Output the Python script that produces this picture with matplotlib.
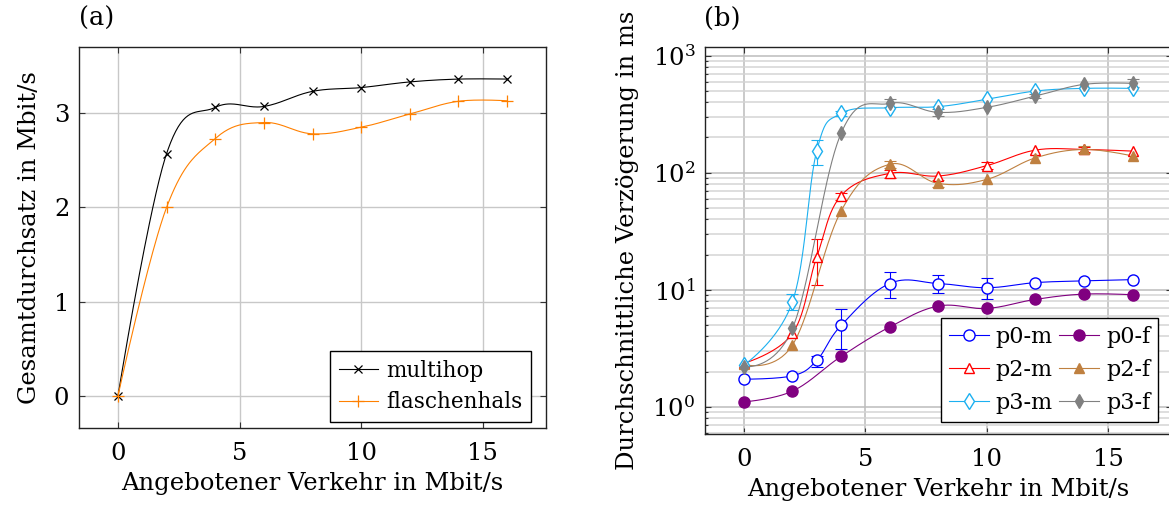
import numpy as np
import matplotlib
matplotlib.use('Agg')
import matplotlib.pyplot as plt
from matplotlib.lines import Line2D
from matplotlib.ticker import LogLocator, NullFormatter

plt.rcParams['font.family'] = ['DejaVu Serif']
plt.rcParams['mathtext.fontset'] = 'dejavuserif'
plt.rcParams['font.size'] = 17.5

# (a) Gesamtdurchsatz
x_a = [0, 2, 4, 6, 8, 10, 12, 14, 16]
multihop = [0, 2.57, 3.06, 3.07, 3.23, 3.27, 3.33, 3.36, 3.36]
flaschenhals = [0, 2.0, 2.73, 2.90, 2.78, 2.85, 2.99, 3.125, 3.13]

# (b) Verzoegerung, values + error bounds (nan = no error bar)
nan = np.nan
x_m = [0, 2, 3, 4, 6, 8, 10, 12, 14, 16]
x_f = [0, 2, 4, 6, 8, 10, 12, 14, 16]

p0_m = [1.72, 1.84, 2.49, 4.95, 11.3, 11.3, 10.4, 11.5, 11.9, 12.2]
p0_m_lo = [nan, nan, 2.2, 3.1, 8.5, 9.3, 8.3, nan, nan, nan]
p0_m_hi = [nan, nan, 2.71, 6.8, 14.1, 13.4, 12.7, nan, nan, nan]

p0_f = [1.10, 1.36, 2.69, 4.80, 7.25, 6.92, 8.27, 9.18, 9.06]

p2_m = [2.35, 4.23, 19.1, 63.6, 98.7, 93.7, 115, 156, 158, 153]
p2_m_lo = [nan, nan, 11.0, 58.5, 91, nan, 107, nan, 150, nan]
p2_m_hi = [nan, nan, 27.0, 67.5, 105, nan, 123, nan, 166, nan]

p2_f = [2.3, 3.37, 47, 118, 81, 87.7, 134, 158, 139]
p2_f_lo = [nan, nan, nan, 110, 75, nan, nan, 147, nan]
p2_f_hi = [nan, nan, nan, 127, 86, nan, nan, 170, nan]

p3_m = [2.27, 7.9, 154, 321, 359, 367, 424, 499, 526, 526]
p3_m_lo = [nan, 6.7, 116, 305, nan, nan, nan, nan, nan, nan]
p3_m_hi = [nan, 9.14, 190, 335, nan, nan, nan, nan, nan, nan]

p3_f = [2.2, 4.67, 217, 391, 328, 362, 452, 569, 580]
p3_f_lo = [nan, nan, nan, 362, 305, nan, 432, nan, 537]
p3_f_hi = [nan, nan, nan, 427, 351, nan, 470, nan, 629]

TENSION = 0.55 * 0.3333


def smooth(ax, x, y, **kw):
    # tikz-like smooth curve, computed in display space
    pts = ax.transData.transform(np.column_stack([x, y]))
    n = len(pts)
    s = np.linspace(0, 1, 40)[1:, None]
    out = [pts[0]]
    for i in range(n - 1):
        p0, p1 = pts[i], pts[i + 1]
        c1 = p0 + TENSION * (p1 - pts[i - 1]) if i > 0 else p0
        c2 = p1 - TENSION * (pts[i + 2] - p0) if i < n - 2 else p1
        seg = (1 - s)**3 * p0 + 3 * (1 - s)**2 * s * c1 + 3 * (1 - s) * s**2 * c2 + s**3 * p1
        out.extend(seg)
    d = ax.transData.inverted().transform(np.array(out))
    ax.plot(d[:, 0], d[:, 1], **kw)


def style_axes(ax):
    ax.tick_params(which='both', direction='in', top=True, right=True,
                   color='#333333', width=0.8)
    ax.tick_params(which='major', length=4.5)
    ax.tick_params(axis='x', which='major', pad=10)
    ax.tick_params(axis='y', which='major', pad=7)
    ax.tick_params(which='minor', length=2.5)
    for sp in ax.spines.values():
        sp.set_linewidth(1.0)
        sp.set_color('#222222')
    ax.set_axisbelow(True)


fig = plt.figure(figsize=(11.69, 5.11), dpi=100)

# ---------- (a) ----------
ax1 = fig.add_axes([79 / 1169, 1 - 428 / 511, 467 / 1169, 381 / 511])
ax1.set_xlim(-1.6, 17.6)
ax1.set_ylim(-0.337, 3.70)
ax1.set_xticks([0, 5, 10, 15])
ax1.set_yticks([0, 1, 2, 3])
ax1.grid(True, color='#c8c8c8', lw=1.0)
style_axes(ax1)

smooth(ax1, x_a, multihop, color='black', lw=0.8)
ax1.plot(x_a, multihop, ls='none', marker='x', ms=6, mew=0.9, color='black')
smooth(ax1, x_a, flaschenhals, color='#ff8000', lw=0.8)
ax1.plot(x_a, flaschenhals, ls='none', marker='+', ms=9, mew=0.9, color='#ff8000')

ax1.set_xlabel('Angebotener Verkehr in Mbit/s', labelpad=5)
ax1.set_ylabel('Gesamtdurchsatz in Mbit/s', labelpad=9)
h1 = [Line2D([], [], color='black', lw=0.8, marker='x', ms=6, mew=0.9),
      Line2D([], [], color='#ff8000', lw=0.8, marker='+', ms=9, mew=0.9)]
leg = ax1.legend(h1, ['multihop', 'flaschenhals'], loc='lower right',
                 bbox_to_anchor=(0.968, 0.016), borderaxespad=0, fancybox=False,
                 framealpha=1, edgecolor='black', handlelength=1.8, fontsize=15.5,
                 handletextpad=0.4, labelspacing=0.45, borderpad=0.4)
leg.get_frame().set_linewidth(1.0)

# ---------- (b) ----------
ax2 = fig.add_axes([705 / 1169, 1 - 434 / 511, 466.5 / 1169, 387.3 / 511])
ax2.set_yscale('log')
ax2.set_xlim(-1.6, 17.6)
ax2.set_ylim(10 ** -0.233, 10 ** 3.077)
ax2.set_xticks([0, 5, 10, 15])
ax2.yaxis.set_major_locator(LogLocator(base=10, numticks=10))
ax2.yaxis.set_minor_locator(LogLocator(base=10, subs=np.arange(2, 10), numticks=20))
ax2.yaxis.set_minor_formatter(NullFormatter())
ax2.grid(True, which='major', color='#bcbcbc', lw=1.1)
ax2.grid(True, which='minor', axis='y', color='#d4d4d4', lw=1.1)
style_axes(ax2)

series = [
    (x_m, p0_m, p0_m_lo, p0_m_hi, 'p0-m', '#0000ff', 'o', False, 8),
    (x_f, p0_f, None, None, 'p0-f', '#800080', 'o', True, 8),
    (x_m, p2_m, p2_m_lo, p2_m_hi, 'p2-m', '#ff0000', '^', False, 7),
    (x_f, p2_f, p2_f_lo, p2_f_hi, 'p2-f', '#bf8040', '^', True, 7),
    (x_m, p3_m, p3_m_lo, p3_m_hi, 'p3-m', '#1cb0f0', 'd', False, 8),
    (x_f, p3_f, p3_f_lo, p3_f_hi, 'p3-f', '#808080', 'd', True, 7.5),
]
handles = []
labels = []
for xs, ys, lo, hi, name, col, mk, filled, ms in series:
    xs = np.array(xs, float)
    ys = np.array(ys, float)
    smooth(ax2, xs, ys, color=col, lw=0.8)
    if lo is not None:
        lo = np.array(lo, float)
        hi = np.array(hi, float)
        ok = ~np.isnan(lo)
        ax2.errorbar(xs[ok], ys[ok], yerr=[ys[ok] - lo[ok], hi[ok] - ys[ok]],
                     fmt='none', ecolor=col, elinewidth=0.8, capsize=4, capthick=0.8)
    fc = col if filled else 'white'
    ax2.plot(xs, ys, ls='none', marker=mk, ms=ms, mfc=fc, mec=col, mew=1.0, zorder=3)
    handles.append(Line2D([], [], color=col, lw=0.8, marker=mk, ms=ms, mfc=fc,
                          mec=col, mew=1.0))
    labels.append(name)

ax2.set_xlabel('Angebotener Verkehr in Mbit/s', labelpad=5)
ax2.set_ylabel('Durchschnittliche Verzögerung in ms', labelpad=10)
# order legend row-wise: m left column, f right column
order = [0, 2, 4, 1, 3, 5]
leg2 = ax2.legend([handles[i] for i in order], [labels[i] for i in order], ncol=2,
                  loc='lower right', bbox_to_anchor=(0.971, 0.031), borderaxespad=0,
                  fancybox=False, framealpha=1, edgecolor='black', handlelength=1.8,
                  fontsize=16, handletextpad=0.3, columnspacing=0.3,
                  labelspacing=0.5, borderpad=0.35)
leg2.get_frame().set_linewidth(1.0)

fig.text(97 / 1169, 1 - 18 / 511, '(a)', ha='center', va='center', fontsize=18.5)
fig.text(722 / 1169, 1 - 18 / 511, '(b)', ha='center', va='center', fontsize=18.5)

fig.savefig('out.png', dpi=100)
